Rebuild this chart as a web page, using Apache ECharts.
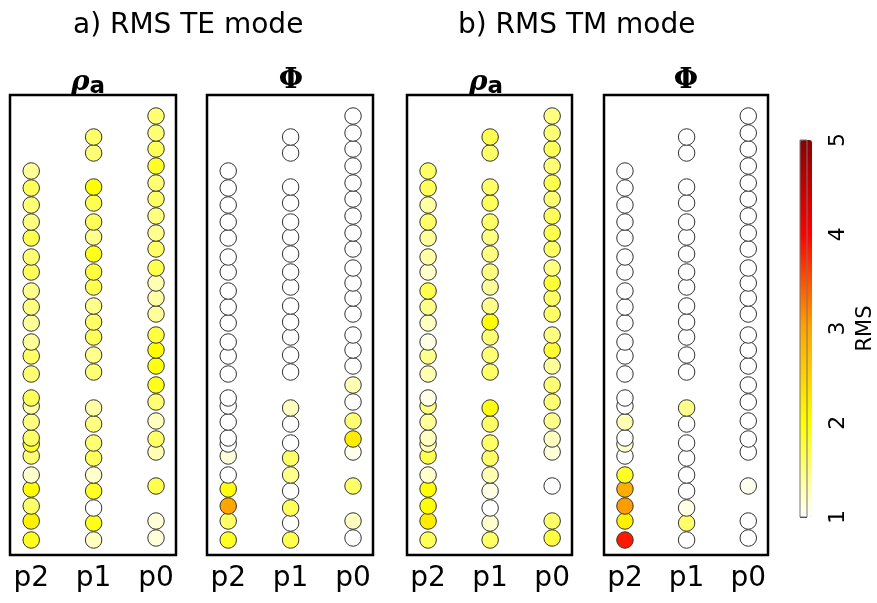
<!DOCTYPE html>
<html>
<head>
<meta charset="utf-8">
<script src="https://cdn.jsdelivr.net/npm/echarts@6/dist/echarts.min.js"></script>
<style>
  body { margin: 0; background: #fff; }
  #main { width: 877px; height: 603px; }
</style>
</head>
<body>
<div id="main"></div>
<script>
// profile names, left to right in every panel
var profiles = ['p2', 'p1', 'p0'];

// station depths (arbitrary units, 0 = top of panel)
var depthP2 = [76, 93, 110, 127, 143, 162, 177, 196, 212, 228, 247, 261, 279, 303, 311, 327, 343, 349, 361, 380, 394, 411, 426, 445];
var depthP1 = [42, 58, 92, 108, 127, 142, 159, 177, 192, 211, 227, 242, 260, 277, 313, 329, 348, 363, 380, 396, 413, 428, 445];
var depthP0 = [21, 38, 54, 71, 88, 104, 121, 138, 154, 173, 188, 203, 219, 240, 255, 271, 290, 307, 326, 344, 357, 391, 426, 443];

// RMS, TE mode, apparent resistivity
var teRhoP2 = [1.4, 1.65, 1.55, 1.5, 1.7, 1.55, 1.65, 1.45, 1.5, 1.4, 1.4, 1.6, 1.55, 1.65, 1.35, 1.5, 1.6, 1.85, 1.55, 1.2, 2.0, 1.6, 2.15, 1.9];
var teRhoP1 = [1.6, 1.55, 2.0, 1.7, 1.65, 1.45, 1.9, 1.75, 1.7, 1.45, 1.6, 1.65, 1.45, 1.55, 1.35, 1.5, 1.55, 1.65, 1.2, 1.85, 1.0, 1.9, 1.25];
var teRhoP0 = [1.55, 1.55, 1.65, 1.85, 1.55, 1.6, 1.5, 1.45, 1.6, 1.7, 1.3, 1.35, 1.4, 1.75, 2.0, 1.95, 1.9, 1.55, 1.25, 1.6, 1.3, 1.7, 1.15, 1.15];

// RMS, TE mode, phase
var tePhiP2 = [1, 1, 1, 1, 1, 1, 1, 1, 1, 1, 1, 1, 1, 1, 1, 1, 1, 1, 1.15, 1, 1.95, 3.0, 1.6, 1.85];
var tePhiP1 = [1, 1, 1, 1, 1, 1, 1, 1, 1, 1, 1, 1, 1, 1, 1.25, 1, 1, 1.6, 1.45, 1, 1.65, 1, 1.7];
var tePhiP0 = [1, 1, 1, 1, 1, 1, 1, 1, 1, 1, 1, 1, 1, 1, 1, 1, 1.3, 1, 1.55, 2.2, 1.08, 1.6, 1.25, 1];

// RMS, TM mode, apparent resistivity
var tmRhoP2 = [1.6, 1.65, 1.35, 1.6, 1.4, 1.35, 1.2, 1.7, 1.45, 1.25, 1.1, 1.45, 1.3, 1.1, 1.5, 1.4, 1.25, 1.3, 1.7, 1.2, 2.0, 2.0, 2.2, 1.65];
var tmRhoP1 = [1.7, 1.6, 1.6, 1.65, 1.6, 1.5, 1.5, 1.5, 1.4, 1.45, 2.0, 1.55, 1.55, 1.6, 1.95, 1.6, 1.6, 1.6, 1.3, 1.1, 1.0, 1.2, 1.6];
var tmRhoP0 = [1.5, 1.55, 1.65, 1.55, 1.7, 1.55, 1.65, 1.7, 1.6, 1.5, 1.8, 1.6, 1.6, 1.5, 1.8, 1.4, 1.55, 1.55, 1.45, 1.25, 1.15, 1.0, 1.6, 1.75];

// RMS, TM mode, phase
var tmPhiP2 = [1, 1, 1, 1, 1, 1, 1, 1, 1, 1, 1, 1, 1, 1, 1, 1.3, 1, 1.2, 1, 1.85, 2.9, 3.05, 2.15, 3.85];
var tmPhiP1 = [1, 1, 1, 1, 1, 1, 1, 1, 1, 1, 1, 1, 1, 1, 1.45, 1, 1, 1, 1, 1, 1.1, 1.6, 1];
var tmPhiP0 = [1, 1, 1, 1, 1, 1, 1, 1, 1, 1, 1, 1, 1, 1, 1, 1, 1, 1, 1, 1, 1, 1.06, 1, 1];

// colour scale
var rmsTicks = [1, 2, 3, 4, 5];
var heatColors = ['#ffffff', '#ffff00', '#ffa500', '#ff0000', '#8b0000'];

var depths = [depthP2, depthP1, depthP0];
var panels = [
    [teRhoP2, teRhoP1, teRhoP0],
    [tePhiP2, tePhiP1, tePhiP0],
    [tmRhoP2, tmRhoP1, tmRhoP0],
    [tmPhiP2, tmPhiP1, tmPhiP0]
];
var gridLeft = [10, 207, 407, 604];
var gridWidth = [166, 166, 165, 164];

function build_points(cols) {
    var pts = [];
    for (var c = 0; c < cols.length; c++) {
        // deeper first so the shallower circle ends up on top
        for (var k = cols[c].length - 1; k >= 0; k--) {
            pts.push([c, depths[c][k], cols[c][k]]);
        }
    }
    return pts;
}

var grids = [], xAxes = [], yAxes = [], series = [];
for (var i = 0; i < 4; i++) {
    grids.push({
        left: gridLeft[i], top: 95, width: gridWidth[i], height: 460,
        show: true, borderColor: '#000', borderWidth: 2.5, backgroundColor: '#fff'
    });
    xAxes.push({
        gridIndex: i, type: 'value', min: -0.34, max: 2.32,
        axisLine: { show: false }, axisTick: { show: false }, splitLine: { show: false },
        axisLabel: {
            customValues: [0, 1, 2],
            formatter: function (v) { return profiles[Math.round(v)]; },
            margin: 10, fontSize: 28, color: '#000', fontFamily: 'DejaVu Sans'
        }
    });
    yAxes.push({
        gridIndex: i, type: 'value', min: 0, max: 460, inverse: true, show: false
    });
    series.push({
        type: 'scatter', xAxisIndex: i, yAxisIndex: i,
        symbol: 'circle', symbolSize: 16.5,
        itemStyle: { borderColor: '#333', borderWidth: 1, opacity: 1 },
        data: build_points(panels[i])
    });
}

// colour bar axis
grids.push({
    left: 800, top: 140, width: 12, height: 377,
    show: true, borderColor: '#777', borderWidth: 1, backgroundColor: 'transparent', z: 10
});
xAxes.push({ gridIndex: 4, type: 'value', show: false });
yAxes.push({
    gridIndex: 4, type: 'value', position: 'right', min: 1, max: 5, interval: 1,
    name: 'RMS', nameLocation: 'middle', nameGap: 48, nameRotate: 90,
    nameTextStyle: { fontSize: 21, color: '#000', fontFamily: 'DejaVu Sans' },
    axisLine: { show: false }, splitLine: { show: false },
    axisTick: { show: true, length: 7, lineStyle: { color: '#333' } },
    axisLabel: {
        rotate: 90, margin: 20, fontSize: 22, color: '#000', fontFamily: 'DejaVu Sans',
        customValues: rmsTicks
    }
});

function rho_label(x) {
    return {
        type: 'text', x: x, y: 83,
        style: {
            text: '{r|ρ}{a|a}', verticalAlign: 'middle', align: 'center',
            rich: {
                r: { fontSize: 28, fontStyle: 'italic', fontWeight: 'bold', fontFamily: 'DejaVu Serif', fill: '#000' },
                a: { fontSize: 23, fontWeight: 'bold', fontFamily: 'DejaVu Sans', fill: '#000', padding: [8, 0, 0, 0] }
            }
        }
    };
}
function phi_label(x) {
    return {
        type: 'text', x: x, y: 81,
        style: {
            text: 'Φ', align: 'center', verticalAlign: 'middle',
            font: 'bold 28px "DejaVu Serif"', fill: '#000'
        }
    };
}

var option = {
    animation: false,
    grid: grids,
    xAxis: xAxes,
    yAxis: yAxes,
    visualMap: {
        type: 'continuous', min: 1, max: 5, dimension: 2,
        seriesIndex: [0, 1, 2, 3],
        calculable: false, showLabel: false, text: null,
        left: 800, top: 140, itemWidth: 12, itemHeight: 377, padding: 0,
        inRange: { color: heatColors }
    },
    graphic: [
        { type: 'text', x: 73, y: 26, style: { text: 'a) RMS TE mode', verticalAlign: 'middle', font: '28px "DejaVu Sans"', fill: '#000' } },
        { type: 'text', x: 458, y: 26, style: { text: 'b) RMS TM mode', verticalAlign: 'middle', font: '28px "DejaVu Sans"', fill: '#000' } },
        rho_label(88), phi_label(291), rho_label(486), phi_label(686)
    ],
    series: series
};

var myChart = echarts.init(document.getElementById('main'));
myChart.setOption(option);
</script>
</body>
</html>
